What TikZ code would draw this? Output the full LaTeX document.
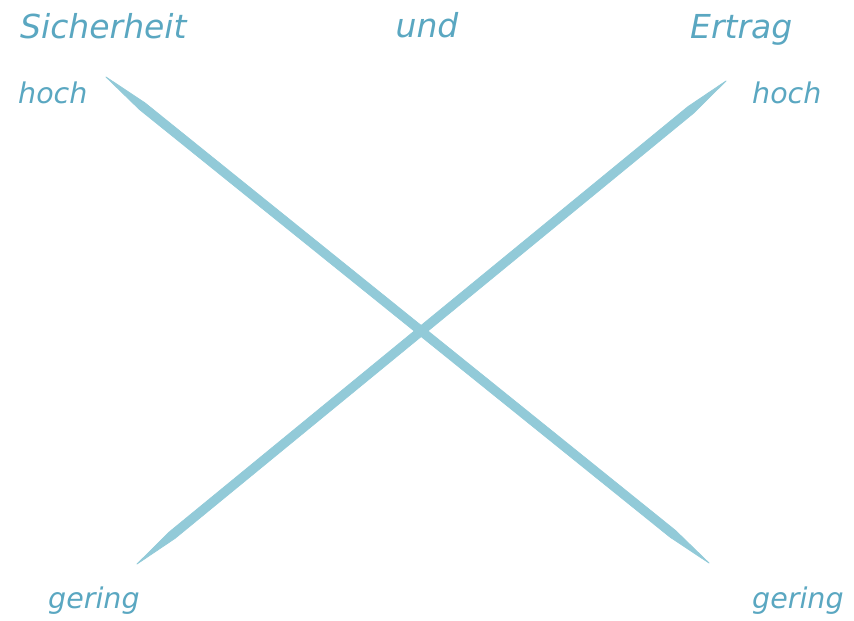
\documentclass[tikz,border=0pt]{standalone}
\usepackage{fontspec}
\setmainfont{DejaVu Sans}
\usetikzlibrary{calc}
\definecolor{inktext}{HTML}{5AA7C1}
\definecolor{chalk}{HTML}{92CAD8}
\tikzset{
  bigword/.style={text=inktext,font=\itshape\fontsize{33}{38}\selectfont,inner sep=0pt},
  smallword/.style={text=inktext,font=\itshape\fontsize{28.5}{34}\selectfont,inner sep=0pt},
  chalkfill/.style={fill=chalk,draw=chalk,line width=0.8pt,line join=round}
}
\newcommand{\taperstroke}[2]{%
  \filldraw[chalkfill] (#1)
    -- ($(#1)!0.06!(#2)!4.3pt!90:(#2)$)
    -- ($(#1)!0.94!(#2)!4.3pt!90:(#2)$)
    -- (#2)
    -- ($(#1)!0.94!(#2)!4.3pt!-90:(#2)$)
    -- ($(#1)!0.06!(#2)!4.3pt!-90:(#2)$)
    -- cycle;}
\begin{document}
\begin{tikzpicture}[x=1pt,y=-1pt]
\useasboundingbox (0,0) rectangle (854,621);
% texts
\node[bigword,anchor=base west] (sich) at (20,38) {Sicherheit};
\node[bigword,anchor=base] (und) at (427,37) {und};
\node[bigword,anchor=base west] (ertr) at (690,38) {Ertrag};
\node[smallword,anchor=base west] (hochl) at (18,103) {hoch};
\node[smallword,anchor=base west] (hochr) at (752,103) {hoch};
\node[smallword,anchor=base west] (gerl) at (48,608) {gering};
\node[smallword,anchor=base west] (gerr) at (752,608) {gering};
% stroke ends
\coordinate (a1) at (106,77);
\coordinate (a2) at (709,563);
\coordinate (b1) at (137,564);
\coordinate (b2) at (726,81);
\taperstroke{a1}{a2}
\taperstroke{b1}{b2}
\end{tikzpicture}
\end{document}
